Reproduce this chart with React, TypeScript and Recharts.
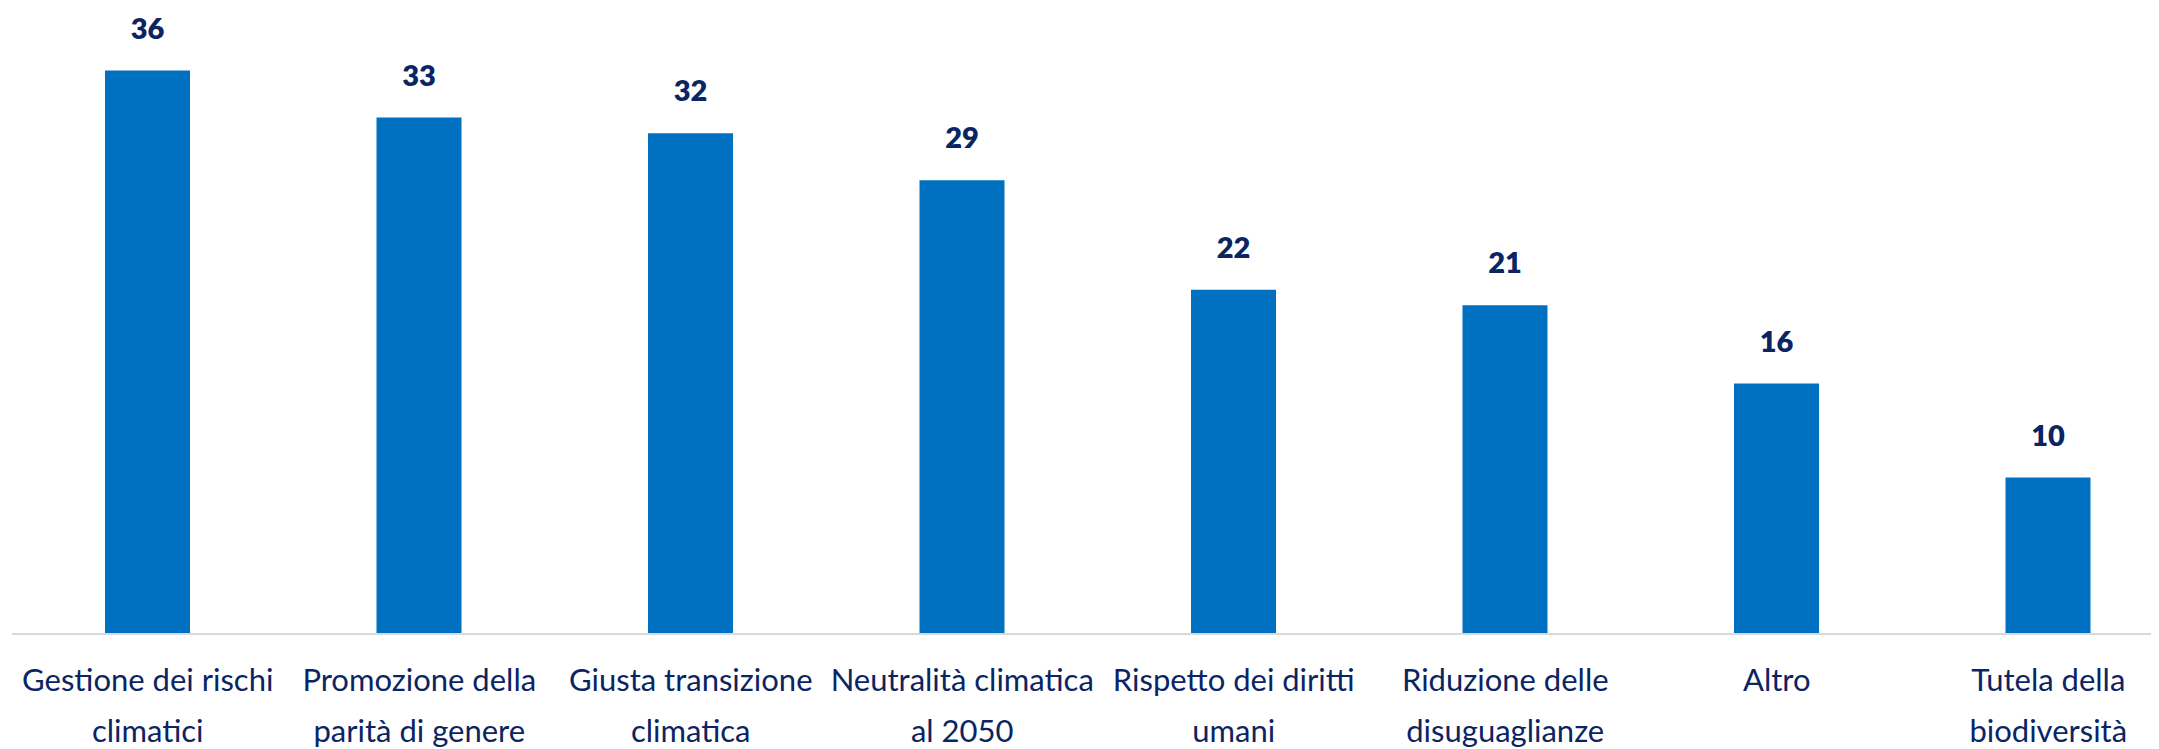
import React from "react";
import { BarChart, Bar, XAxis, YAxis, LabelList } from "recharts";

const categories = [
  "Gestione dei rischi climatici",
  "Promozione della parità di genere",
  "Giusta transizione climatica",
  "Neutralità climatica al 2050",
  "Rispetto dei diritti umani",
  "Riduzione delle disuguaglianze",
  "Altro",
  "Tutela della biodiversità",
];
const values = [36, 33, 32, 29, 22, 21, 16, 10];

const data = categories.map((name, i) => ({ name, value: values[i] }));

const FONT = "Lato, 'Noto Sans', sans-serif";
const NAVY = "#0b2463";

function wrap(text: string, max = 20): string[] {
  const words = text.split(" ");
  const lines: string[] = [];
  let cur = "";
  for (const w of words) {
    const next = cur ? cur + " " + w : w;
    if (next.length > max && cur) {
      lines.push(cur);
      cur = w;
    } else {
      cur = next;
    }
  }
  if (cur) lines.push(cur);
  return lines;
}

const Tick = (props: any) => {
  const { x, y, payload } = props;
  const lines = wrap(String(payload.value));
  return (
    <g>
      {lines.map((l, i) => (
        <text
          key={i}
          x={x}
          y={y + 57 + i * 51}
          textAnchor="middle"
          fill={NAVY}
          fontFamily={FONT}
          fontSize={31}
        >
          {l}
        </text>
      ))}
    </g>
  );
};

const ValueLabel = (props: any) => {
  const { x, y, width, value } = props;
  return (
    <text
      x={x + width / 2}
      y={y - 32}
      textAnchor="middle"
      fill={NAVY}
      fontFamily={FONT}
      fontWeight={800}
      fontSize={29}
    >
      {value}
    </text>
  );
};

export default function App() {
  return (
    <div style={{ width: 2151, height: 741, overflow: "hidden" }}>
      <BarChart
        width={2176}
        height={760}
        data={data}
        margin={{ top: 0, right: 0, left: 4, bottom: 0 }}
      >
        <XAxis
          dataKey="name"
          axisLine={{ stroke: "#d9d9d9", strokeWidth: 2 }}
          tickLine={false}
          tickSize={0}
          tickMargin={0}
          height={134}
          interval={0}
          tick={<Tick />}
        />
        <YAxis hide domain={[0, 40]} />
        <Bar dataKey="value" fill="#0070c0" barSize={85} isAnimationActive={false}>
          <LabelList dataKey="value" content={<ValueLabel />} />
        </Bar>
      </BarChart>
    </div>
  );
}
